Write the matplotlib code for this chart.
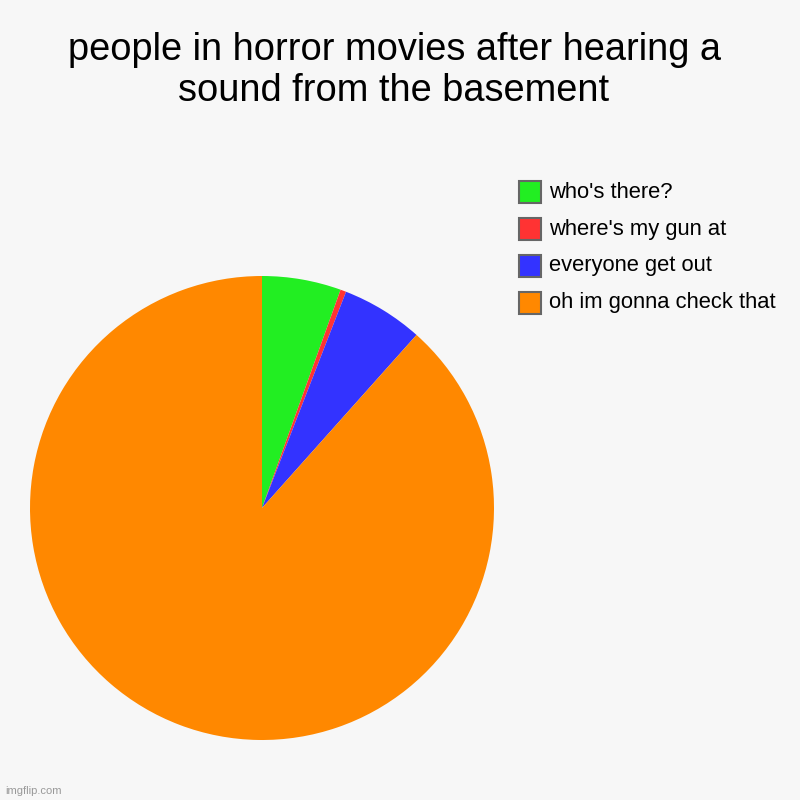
import matplotlib.pyplot as plt
from matplotlib.patches import Rectangle

plt.rcParams['font.family'] = ['Liberation Sans', 'DejaVu Sans']

# pie slices, clockwise from the top
labels = ["who's there?", "where's my gun at", "everyone get out",
          "oh im gonna check that"]
values = [5.5, 0.4, 5.7, 88.4]
colors = ['#22ee22', '#ff3333', '#3333ff', '#ff8800']
title_lines = ["people in horror movies after hearing a",
               "sound from the basement"]

bg = '#f7f7f7'
fig = plt.figure(figsize=(8, 8), dpi=100, facecolor=bg)

# title, one text per line so the baselines sit where they should
for i, line in enumerate(title_lines):
    fig.text(0.4925, 1 - (60 + 41 * i) / 800, line, ha='center',
             va='baseline', fontsize=27.4)

# pie axes: square box around the circle
ax = fig.add_axes([30 / 800, 60 / 800, 464 / 800, 464 / 800])
ax.set_facecolor(bg)
ax.pie(values, colors=colors, startangle=90, counterclock=False,
       radius=1, wedgeprops={'linewidth': 0})
ax.set_xlim(-1, 1)
ax.set_ylim(-1, 1)
ax.set_aspect('equal')
ax.axis('off')

# legend drawn by hand
for i, (lab, col) in enumerate(zip(labels, colors)):
    yc = 192 + 37 * i
    fig.patches.append(Rectangle((519 / 800, 1 - (yc + 11) / 800),
                                 22 / 800, 22 / 800,
                                 transform=fig.transFigure,
                                 facecolor=col, edgecolor='#666666',
                                 linewidth=1.5))
    fig.text(549 / 800, 1 - yc / 800, lab, ha='left', va='center',
             fontsize=15.8)

fig.text(5 / 800, 1 - 791 / 800, 'imgflip.com', ha='left', va='center',
         fontsize=8, color='#999999')

fig.savefig('out.png', dpi=100, facecolor=bg)
